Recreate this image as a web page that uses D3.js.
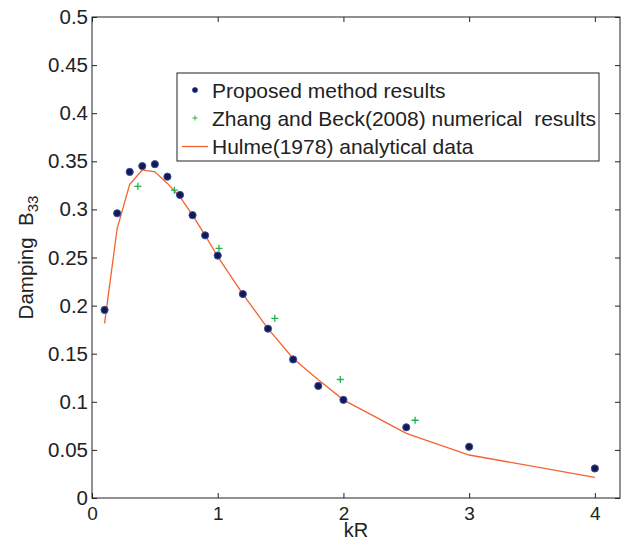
<!DOCTYPE html>
<html>
<head>
<meta charset="utf-8">
<script src="https://cdn.jsdelivr.net/npm/d3@7"></script>
<style>
  body { margin: 0; background: #fff; }
  svg text { font-family: "Liberation Sans", Arial, Helvetica, sans-serif; fill: #222; white-space: pre; }
</style>
</head>
<body>
<svg id="chart" width="622" height="541"></svg>
<script>
// ---- data
const proposedKR = [0.1, 0.2, 0.3, 0.4, 0.5, 0.6, 0.7, 0.8, 0.9, 1.0, 1.2, 1.4, 1.6, 1.8, 2.0, 2.5, 3.0, 4.0];
const proposedB  = [0.1955, 0.296, 0.339, 0.345, 0.347, 0.334, 0.315, 0.294, 0.273, 0.252, 0.212, 0.176, 0.144, 0.1165, 0.102, 0.0735, 0.0533, 0.0307];

const zhangKR = [0.365, 0.655, 1.01, 1.454, 1.975, 2.57];
const zhangB  = [0.324, 0.320, 0.2595, 0.1868, 0.1232, 0.0808];

const hulmeKR = [0.1, 0.2, 0.3, 0.4, 0.5, 0.6, 0.7, 0.8, 0.9, 1.0, 1.2, 1.4, 1.6, 1.8, 2.0, 2.5, 3.0, 4.0];
const hulmeB  = [0.1816, 0.280, 0.326, 0.341, 0.339, 0.327, 0.313, 0.294, 0.273, 0.251, 0.212, 0.176, 0.145, 0.123, 0.102, 0.0672, 0.0447, 0.0215];

const xTicks = [0, 1, 2, 3, 4];
const yTicks = [0, 0.05, 0.1, 0.15, 0.2, 0.25, 0.3, 0.35, 0.4, 0.45, 0.5];

const legendLabels = ["Proposed method results", "Zhang and Beck(2008) numerical  results", "Hulme(1978) analytical data"];

// ---- layout
const svg = d3.select('#chart');
const box = { left: 92, right: 620, top: 17, bottom: 498 };
const dotFill = '#121a4e', dotStroke = '#3c4ea6', plusColor = '#22b24c', lineColor = '#f26430';

const mapX = d3.scaleLinear().domain([0, 4.2]).range([box.left, box.right]);
const mapY = d3.scaleLinear().domain([0, 0.5]).range([box.bottom, box.top]);
const fmt = d => String(+d.toFixed(2));

svg.append('rect').attr('width', 622).attr('height', 541).attr('fill', '#fff');

// ---- axes (ticks inward, MATLAB style)
function styleAxis(size) {
    return g => {
        g.select('.domain').remove();
        g.selectAll('.tick line').attr('stroke', '#222');
        g.selectAll('.tick text').style('font-size', size).attr('fill', '#222');
    };
}

svg.append('g')
    .attr('transform', `translate(0, ${box.bottom})`)
    .call(d3.axisBottom(mapX).tickValues(xTicks).tickSize(-5).tickPadding(9).tickFormat(fmt))
    .call(styleAxis('19px'));

svg.append('g')
    .attr('transform', `translate(0, ${box.top})`)
    .call(d3.axisTop(mapX).tickValues(xTicks).tickSize(-5).tickFormat(''))
    .call(styleAxis('19px'));

svg.append('g')
    .attr('transform', `translate(${box.left}, 0)`)
    .call(d3.axisLeft(mapY).tickValues(yTicks).tickSize(-5).tickPadding(4).tickFormat(fmt))
    .call(styleAxis('20.5px'));

svg.append('g')
    .attr('transform', `translate(${box.right}, 0)`)
    .call(d3.axisRight(mapY).tickValues(yTicks).tickSize(-5).tickFormat(''))
    .call(styleAxis('20px'));

svg.append('rect')
    .attr('x', box.left).attr('y', box.top)
    .attr('width', box.right - box.left).attr('height', box.bottom - box.top)
    .attr('fill', 'none').attr('stroke', '#222').attr('stroke-width', 1);

// axis labels
svg.append('text')
    .attr('x', (box.left + box.right) / 2)
    .attr('y', 536.5)
    .attr('text-anchor', 'middle')
    .style('font-size', '20px')
    .text('kR');

const yLab = svg.append('text')
    .attr('transform', `translate(33, ${(box.top + box.bottom) / 2}) rotate(-90)`)
    .attr('text-anchor', 'middle')
    .style('font-size', '20.5px');
yLab.append('tspan').text('Damping  B');
yLab.append('tspan').attr('dy', 5).style('font-size', '15px').text('33');

// ---- series
const line = d3.line().x(d => mapX(d[0])).y(d => mapY(d[1]));
svg.append('path')
    .datum(hulmeKR.map((k, i) => [k, hulmeB[i]]))
    .attr('fill', 'none')
    .attr('stroke', lineColor)
    .attr('stroke-width', 1.3)
    .attr('d', line);

svg.append('g')
    .selectAll('path')
    .data(zhangKR.map((k, i) => [k, zhangB[i]]))
    .join('path')
    .attr('d', d => `M${mapX(d[0]) - 3.5},${mapY(d[1])}h7M${mapX(d[0])},${mapY(d[1]) - 3.5}v7`)
    .attr('stroke', plusColor)
    .attr('stroke-width', 1.3);

svg.append('g')
    .selectAll('circle')
    .data(proposedKR.map((k, i) => [k, proposedB[i]]))
    .join('circle')
    .attr('cx', d => mapX(d[0]))
    .attr('cy', d => mapY(d[1]))
    .attr('r', 3.6)
    .attr('fill', dotFill)
    .attr('stroke', dotStroke)
    .attr('stroke-width', 1);

// ---- legend
const leg = svg.append('g');
leg.append('rect')
    .attr('x', 177).attr('y', 73).attr('width', 422).attr('height', 88)
    .attr('fill', '#fff').attr('stroke', '#222').attr('stroke-width', 1);

const rowY = [90, 118, 146.5];
legendLabels.forEach((t, i) => {
    leg.append('text')
        .attr('x', 212).attr('y', rowY[i] + 7.5)
        .style('font-size', '21px')
        .text(t);
});
leg.append('circle').attr('cx', 195).attr('cy', rowY[0]).attr('r', 2.6)
    .attr('fill', dotFill).attr('stroke', dotStroke).attr('stroke-width', 0.8);
leg.append('path').attr('d', `M192.5,${rowY[1]}h5M195,${rowY[1] - 2.5}v5`)
    .attr('stroke', plusColor).attr('stroke-width', 1);
leg.append('line').attr('x1', 182).attr('x2', 208).attr('y1', rowY[2]).attr('y2', rowY[2])
    .attr('stroke', lineColor).attr('stroke-width', 1.3);
</script>
</body>
</html>
